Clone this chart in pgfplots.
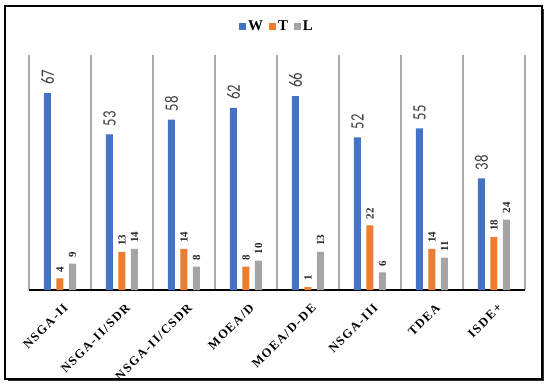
\documentclass[border=0pt]{standalone}
\usepackage{pgfplots}
\pgfplotsset{compat=1.18}
\usepackage{fontspec}
\setmainfont{Liberation Serif}
\newfontfamily\carlito{Carlito}
\newfontface\tickfont[LetterSpace=12]{Liberation Serif Bold}
\definecolor{cW}{HTML}{4472C4}
\definecolor{cT}{HTML}{ED7D31}
\definecolor{cL}{HTML}{A5A5A5}
\definecolor{cG}{HTML}{ADADAD}
\begin{document}
\begin{tikzpicture}
\begin{axis}[
  at={(29bp,97bp)}, anchor=south west,
  scale only axis, width=496bp, height=235bp,
  ybar=5.5bp, bar width=7bp,
  xmin=-0.5, xmax=7.5, ymin=0, ymax=80,
  axis x line=bottom, axis y line=none,
  x axis line style={-, line width=1.3bp, black},
  xtick={0,...,7},
  xticklabels={NSGA-II,NSGA-II/SDR,NSGA-II/CSDR,MOEA/D,MOEA/D-DE,NSGA-III,TDEA,ISDE+},
  major tick length=0pt, minor tick length=0pt,
  minor xtick={-0.5,0.5,...,7.5},
  xminorgrids=true,
  minor grid style={draw=cG, line width=1.7bp},
  xticklabel style={rotate=45, anchor=north east, font=\tickfont\fontsize{12.5}{14}\selectfont, inner sep=1bp, xshift=-6bp, yshift=-10bp},
  clip=false,
  legend style={at={(0.5,1.123)}, anchor=center, legend columns=-1, draw=none, fill=none,
    font=\bfseries\fontsize{15}{16}\selectfont,
    /tikz/every even column/.append style={column sep=4bp}},
  legend image code/.code={\path[#1, draw=none] (0bp,-3.5bp) rectangle (7bp,3.5bp);},
]
\addplot[fill=cW, draw=none, nodes near coords, nodes near coords style={rotate=90, anchor=west, inner xsep=8bp, text=black!75, font=\carlito\fontsize{19}{20}\selectfont, /pgf/number format/assume math mode=true},
  nodes near coords={\scalebox{0.78}[1]{\pgfmathprintnumber\pgfplotspointmeta}}]
  coordinates {(0,67) (1,53) (2,58) (3,62) (4,66) (5,52) (6,55) (7,38)};
\addplot[fill=cT, draw=none, nodes near coords, nodes near coords style={rotate=90, anchor=west, inner xsep=6bp, text=black!85, font=\bfseries\fontsize{11}{12}\selectfont, /pgf/number format/assume math mode=true}]
  coordinates {(0,4) (1,13) (2,14) (3,8) (4,1) (5,22) (6,14) (7,18)};
\addplot[fill=cL, draw=none, nodes near coords, nodes near coords style={rotate=90, anchor=west, inner xsep=6bp, text=black!85, font=\bfseries\fontsize{11}{12}\selectfont, /pgf/number format/assume math mode=true}]
  coordinates {(0,9) (1,14) (2,8) (3,10) (4,13) (5,6) (6,11) (7,24)};
\legend{W,T,L}
\end{axis}
\draw[line width=1.5bp, black] (5bp,8bp) rectangle (542bp,381bp);
\draw[line width=1.6bp, black!80] (543.5bp,378bp) -- (543.5bp,6.5bp) -- (8bp,6.5bp);
\pgfresetboundingbox
\path (0,0) rectangle (550bp,387bp);
\end{tikzpicture}
\end{document}
